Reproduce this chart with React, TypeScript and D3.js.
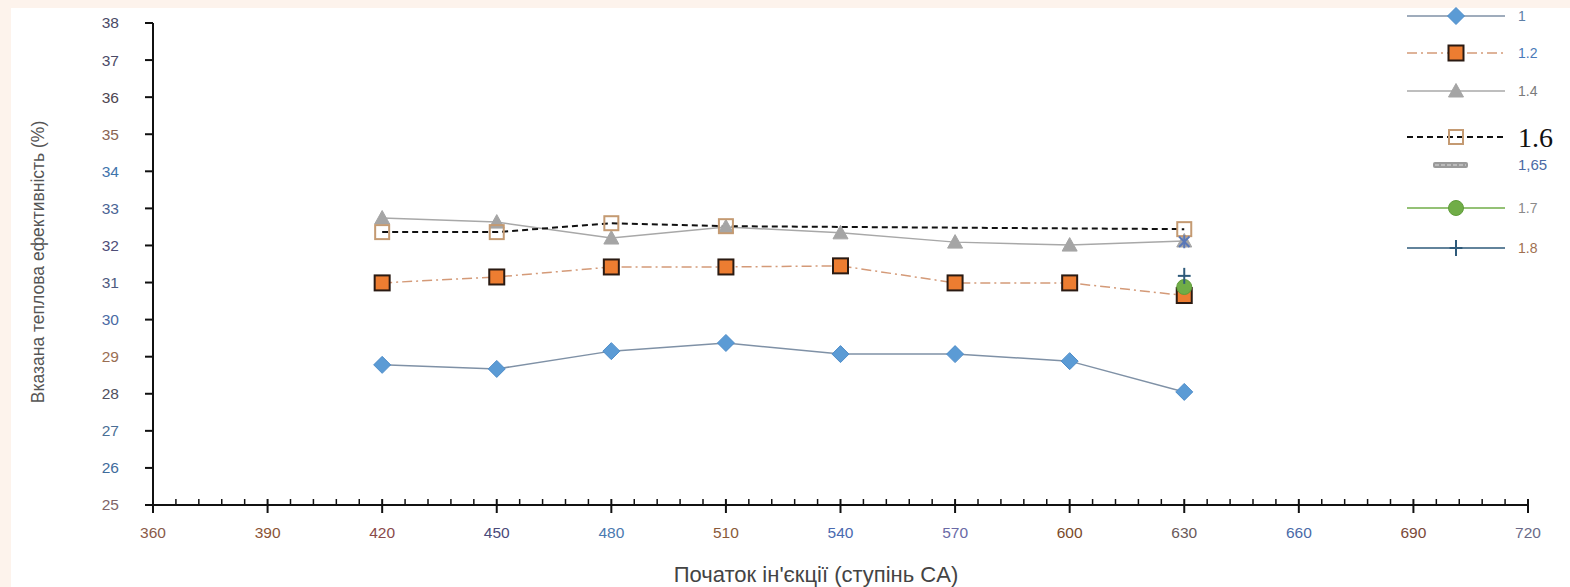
import React from "react";
import * as d3 from "d3";

// ---------- data ----------
const xTickValues = [360, 390, 420, 450, 480, 510, 540, 570, 600, 630, 660, 690, 720];
const yTickValues = [25, 26, 27, 28, 29, 30, 31, 32, 33, 34, 35, 36, 37, 38];
const injection = [420, 450, 480, 510, 540, 570, 600, 630];

const eff10 = [28.78, 28.67, 29.15, 29.37, 29.07, 29.07, 28.88, 28.05];
const eff12 = [30.99, 31.15, 31.42, 31.42, 31.45, 30.99, 30.99, 30.65];
const eff14 = [32.74, 32.63, 32.2, 32.5, 32.34, 32.09, 32.01, 32.12];
const eff16 = [32.36, 32.36, 32.6, 32.52, null, null, null, 32.44];
const eff165 = [null, null, null, null, null, null, null, 32.1];
const eff17 = [null, null, null, null, null, null, null, 30.88];
const eff18 = [null, null, null, null, null, null, null, 31.18];

const seriesNames = ["1", "1.2", "1.4", "1.6", "1,65", "1.7", "1.8"];
const seriesValues = [eff10, eff12, eff14, eff16, eff165, eff17, eff18];

const xTitle = "Початок ін'єкції (ступінь CA)";
const yTitle = "Вказана теплова ефективність (%)";

// ---------- styles ----------
const yLabelColors = ["#806468", "#3f6c9c", "#4a6f96", "#50505e", "#9a6e52", "#4a6aa4", "#4e5a80", "#4e4e78", "#4a6494", "#3f74ac", "#8a6452", "#4e4650", "#4a4a66", "#4a4a66"];
const xLabelColors = ["#8a5a4a", "#8a5436", "#8a4a4a", "#4a4a7a", "#4a7ab0", "#8a5a3a", "#4a6ab0", "#6a6aa6", "#7a4a2a", "#6a5a5a", "#4a6aa8", "#7a4a3a", "#6a6a88"];

type Sty = {
  line: string; width: number; dash?: string; marker: string;
  fill: string; stroke: string; sw: number; size: number;
  label: string; font: string; fsize: number;
};
const styles: Sty[] = [
  { line: "#7f91a6", width: 1.5, marker: "diamond", fill: "#5b9bd5", stroke: "#4f8dc9", sw: 1, size: 17, label: "#5d7fa6", font: "Liberation Sans, Arial, sans-serif", fsize: 14 },
  { line: "#d49a78", width: 1.5, dash: "10,4,2,4", marker: "square", fill: "#ed7d31", stroke: "#2a1a12", sw: 2, size: 15, label: "#4a7ab8", font: "Liberation Sans, Arial, sans-serif", fsize: 14 },
  { line: "#a8a8a8", width: 1.5, marker: "triangle", fill: "#a5a5a5", stroke: "#a5a5a5", sw: 1, size: 15, label: "#7a7a7a", font: "Liberation Sans, Arial, sans-serif", fsize: 14 },
  { line: "#111111", width: 2, dash: "6,4", marker: "hsquare", fill: "none", stroke: "#c49a72", sw: 2, size: 14, label: "#111111", font: "Liberation Serif, Times New Roman, serif", fsize: 28 },
  { line: "#9a9a9a", width: 0, marker: "star", fill: "none", stroke: "#5a78b8", sw: 2, size: 13, label: "#4a6aa4", font: "Liberation Sans, Arial, sans-serif", fsize: 15 },
  { line: "#70ad47", width: 1.5, marker: "circle", fill: "#70ad47", stroke: "#5f9c3a", sw: 1, size: 15, label: "#8a8a8a", font: "Liberation Sans, Arial, sans-serif", fsize: 14 },
  { line: "#2e5a7a", width: 1.5, marker: "plus", fill: "none", stroke: "#2e5a7a", sw: 2, size: 16, label: "#a07050", font: "Liberation Sans, Arial, sans-serif", fsize: 14 },
];

const W = 1570, H = 587;
const plotL = 153, plotR = 1528, plotT = 23, plotB = 505;

function Marker({ kind, x, y, s }: { kind: string; x: number; y: number; s: Sty }) {
  const r = s.size / 2;
  switch (kind) {
    case "diamond":
      return <path d={`M${x},${y - r}L${x + r},${y}L${x},${y + r}L${x - r},${y}Z`} fill={s.fill} stroke={s.stroke} strokeWidth={s.sw} />;
    case "square":
      return <rect x={x - r} y={y - r} width={s.size} height={s.size} fill={s.fill} stroke={s.stroke} strokeWidth={s.sw} />;
    case "hsquare":
      return <rect x={x - r} y={y - r} width={s.size} height={s.size} fill="none" stroke={s.stroke} strokeWidth={s.sw} />;
    case "triangle":
      return <path d={`M${x},${y - r}L${x + r},${y + r * 0.8}L${x - r},${y + r * 0.8}Z`} fill={s.fill} stroke={s.stroke} strokeWidth={s.sw} />;
    case "circle":
      return <circle cx={x} cy={y} r={r} fill={s.fill} stroke={s.stroke} strokeWidth={s.sw} />;
    case "plus":
      return (
        <g stroke={s.stroke} strokeWidth={s.sw}>
          <line x1={x} y1={y - r} x2={x} y2={y + r} />
          <line x1={x - r * 0.8} y1={y} x2={x + r * 0.8} y2={y} />
        </g>
      );
    case "star": {
      const a = r * 0.8;
      return (
        <g stroke={s.stroke} strokeWidth={s.sw}>
          <line x1={x} y1={y - r} x2={x} y2={y + r} />
          <line x1={x - a} y1={y - a} x2={x + a} y2={y + a} />
          <line x1={x - a} y1={y + a} x2={x + a} y2={y - a} />
        </g>
      );
    }
  }
  return null;
}

export default function App() {
  const x = d3.scaleLinear().domain([360, 720]).range([plotL, plotR]);
  const y = d3.scaleLinear().domain([25, 38]).range([plotB, plotT]);
  const minorTicks = d3.range(360, 720.001, 6).filter((v) => (v - 360) % 30 !== 0);

  const lineGen = d3
    .line<[number, number]>()
    .x((d) => x(d[0]))
    .y((d) => y(d[1]));

  const pts = seriesValues.map((vals) =>
    injection
      .map((xv, i) => [xv, vals[i]] as [number, number | null])
      .filter((p) => p[1] !== null) as [number, number][]
  );

  const legX1 = 1407, legX2 = 1505, legM = 1456, legLabelX = 1518;
  const legY = [16, 53, 91, 137, 165, 208, 248];

  return (
    <>
      <style>{"body{margin:0;background:#fdf3ec}"}</style>
      <svg width={W} height={H} style={{ display: "block" }} fontFamily="Liberation Sans, Arial, sans-serif">
        <rect x={0} y={0} width={W} height={H} fill="#fdf3ec" />
        <rect x={11} y={8} width={W - 11} height={H - 8} fill="#ffffff" />

        {/* Y axis */}
        <line x1={plotL} y1={plotT} x2={plotL} y2={plotB} stroke="#111" strokeWidth={2} />
        {yTickValues.map((v, i) => (
          <g key={"y" + v}>
            <line x1={plotL - 8} y1={y(v)} x2={plotL} y2={y(v)} stroke="#111" strokeWidth={2} />
            <text x={119} y={y(v)} dy="0.35em" textAnchor="end" fontSize={15.5} fill={yLabelColors[i]}>
              {v}
            </text>
          </g>
        ))}

        {/* X axis */}
        <line x1={plotL} y1={plotB} x2={plotR} y2={plotB} stroke="#111" strokeWidth={2} />
        {minorTicks.map((v) => (
          <line key={"m" + v} x1={x(v)} y1={plotB - 6} x2={x(v)} y2={plotB} stroke="#111" strokeWidth={1.5} />
        ))}
        {xTickValues.map((v, i) => (
          <g key={"x" + v}>
            <line x1={x(v)} y1={plotB - 6} x2={x(v)} y2={plotB + 8} stroke="#111" strokeWidth={2} />
            <text x={x(v)} y={533} dy="0.35em" textAnchor="middle" fontSize={15.5} fill={xLabelColors[i]}>
              {v}
            </text>
          </g>
        ))}

        {/* titles */}
        <text x={816} y={574} dy="0.35em" textAnchor="middle" fontSize={22} fill="#444">
          {xTitle}
        </text>
        <text transform={`translate(38,262) rotate(-90)`} textAnchor="middle" dy="0.35em" fontSize={17.5} fill="#555">
          {yTitle}
        </text>

        {/* series lines */}
        {pts.map((p, i) =>
          styles[i].width > 0 && p.length > 1 ? (
            <path key={"l" + i} d={lineGen(p) || ""} fill="none" stroke={styles[i].line} strokeWidth={styles[i].width} strokeDasharray={styles[i].dash} />
          ) : null
        )}
        {/* markers */}
        {pts.map((p, i) =>
          p.map((d, j) => <Marker key={"mk" + i + "_" + j} kind={styles[i].marker} x={x(d[0])} y={y(d[1])} s={styles[i]} />)
        )}

        {/* legend */}
        {seriesNames.map((name, i) => {
          const s = styles[i];
          const ly = legY[i];
          return (
            <g key={"lg" + i}>
              {i === 4 ? (
                <g>
                  <rect x={1433} y={ly - 3} width={35} height={6} rx={2} fill="#9a9a9a" />
                  <line x1={1435} y1={ly} x2={1466} y2={ly} stroke="#c8c8c8" strokeWidth={1.5} strokeDasharray="4,2" />
                </g>
              ) : (
                <line x1={legX1} y1={ly} x2={legX2} y2={ly} stroke={s.line} strokeWidth={s.width} strokeDasharray={s.dash} />
              )}
              {i !== 4 && <Marker kind={s.marker} x={legM} y={ly} s={s} />}
              <text x={legLabelX} y={ly} dy="0.35em" fontSize={s.fsize} fontFamily={s.font} fill={s.label}>
                {name}
              </text>
            </g>
          );
        })}
      </svg>
    </>
  );
}
